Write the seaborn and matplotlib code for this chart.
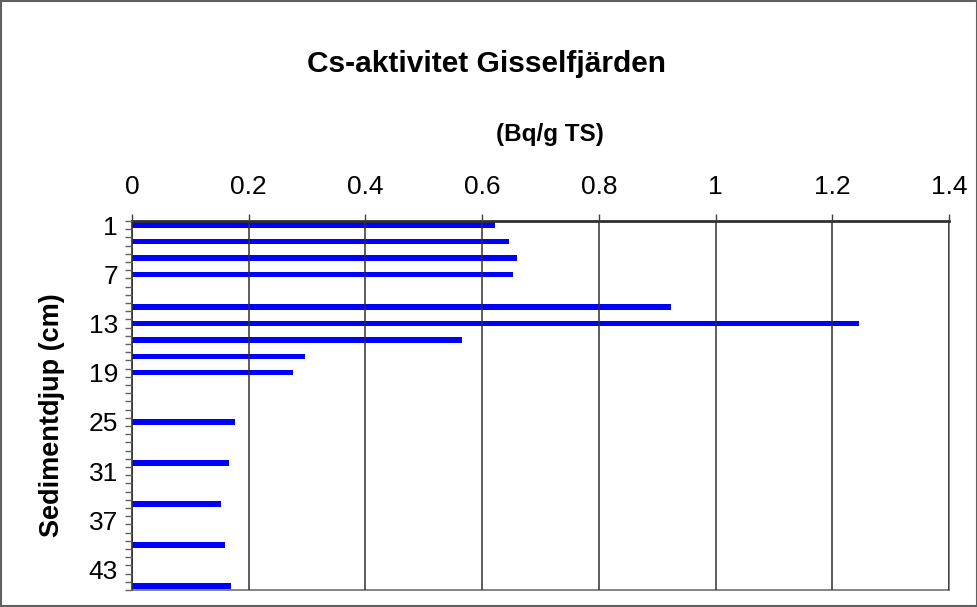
import matplotlib
matplotlib.use('Agg')
import matplotlib.pyplot as plt
from matplotlib.patches import Rectangle
from matplotlib.ticker import FixedLocator
import seaborn as sns
import pandas as pd
import numpy as np

# ---- data ----
depths = [1, 3, 5, 7, 11, 13, 15, 17, 19, 25, 30, 35, 40, 45]
activity = [0.622, 0.646, 0.660, 0.653, 0.924, 1.246, 0.566, 0.296, 0.276,
            0.176, 0.166, 0.152, 0.159, 0.170]
categories = list(range(1, 46))
ytick_labels = [1, 7, 13, 19, 25, 31, 37, 43]
xticks = [0, 0.2, 0.4, 0.6, 0.8, 1.0, 1.2, 1.4]
xtick_labels = ['0', '0.2', '0.4', '0.6', '0.8', '1', '1.2', '1.4']
title = 'Cs-aktivitet Gisselfjärden'
xlabel = '(Bq/g TS)'
ylabel = 'Sedimentdjup (cm)'

sns.set_theme(style='white')
plt.rcParams['font.family'] = ['Liberation Sans', 'DejaVu Sans']
plt.rcParams['text.color'] = 'black'
plt.rcParams['xtick.color'] = 'black'
plt.rcParams['ytick.color'] = 'black'

W, H = 978, 607
fig = plt.figure(figsize=(W / 100, H / 100), dpi=100)
ax = fig.add_axes([132 / W, 1 - 590 / H, (949 - 132) / W, (590 - 221) / H])

df = pd.DataFrame({'depth': [str(d) for d in depths], 'activity': activity})
order = [str(c) for c in categories]
sns.barplot(data=df, x='activity', y='depth', order=order, color='#0000FF',
            saturation=1, width=0.66, orient='h', ax=ax, linewidth=0)

ax.set_xlim(0, 1.4)
ax.set_ylim(len(categories) - 0.5, -0.5)

# x axis on top
ax.xaxis.tick_top()
ax.set_xticks(xticks)
ax.set_xticklabels(xtick_labels, fontsize=19)
ax.tick_params(axis='x', which='major', top=True, bottom=False, direction='out',
               length=5, width=1, color='#404040', pad=11, labelcolor='black')
ax.xaxis.grid(True, color='#303030', linewidth=1.1)
ax.set_axisbelow(False)

# y axis: labels at every 6th category, ticks at category boundaries
ypos = [categories.index(v) for v in ytick_labels]
ax.set_yticks(ypos)
ax.set_yticklabels([str(v) for v in ytick_labels], fontsize=19)
ax.yaxis.set_minor_locator(FixedLocator(np.arange(-0.5, len(categories), 1.0)))
ax.tick_params(axis='y', which='major', left=True, length=0, pad=10, labelcolor='black')
ax.tick_params(axis='y', which='minor', left=True, direction='out', length=5,
               width=1, color='#606060')
ax.set_xlabel('')
ax.set_ylabel('')

for side in ['left', 'right', 'bottom']:
    ax.spines[side].set_color('#707070')
    ax.spines[side].set_linewidth(1.2)
ax.spines['top'].set_color('#303030')
ax.spines['top'].set_linewidth(2)
ax.spines['left'].set_color('#303030')

fig.text(486.5 / W, 1 - 64 / H, title, ha='center', va='center',
         fontsize=21.5, fontweight='bold', color='black')
fig.text(550 / W, 1 - 135 / H, xlabel, ha='center', va='center',
         fontsize=17.5, fontweight='bold', color='black')
fig.text(52 / W, 1 - 415 / H, ylabel, ha='center', va='center', rotation=90,
         fontsize=19.5, fontweight='bold', color='black')

fig.patches.append(Rectangle((0.001, 0.001), 0.998, 0.997, transform=fig.transFigure,
                             fill=False, edgecolor='#606060', linewidth=1.5))

fig.savefig('out.png', dpi=100)
